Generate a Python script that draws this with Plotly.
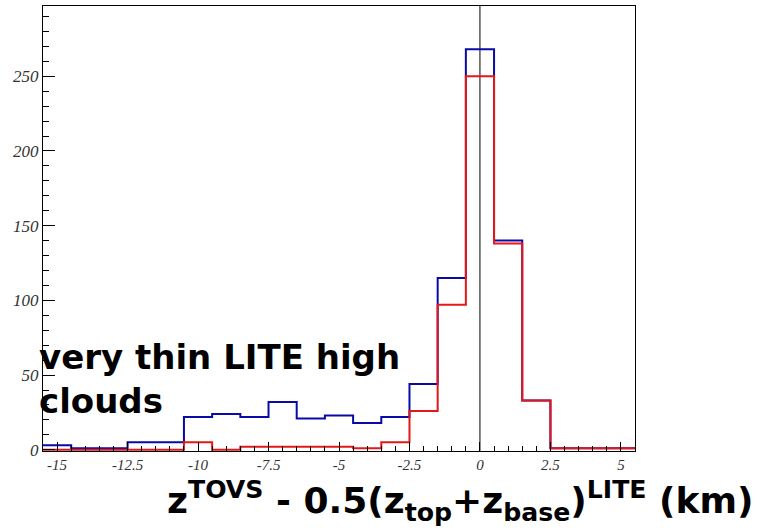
import plotly.graph_objects as go

# bin centres (km), width 1
bin_centers = [-15, -14, -13, -12, -11, -10, -9, -8, -7, -6, -5, -4, -3, -2, -1, 0, 1, 2, 3, 4, 5]
blue_counts = [3, 1, 1, 5, 5, 22, 24, 22, 32, 21, 23, 18, 22, 44, 115, 268, 140, 33, 1, 1, 1]
red_counts = [0, 0, 0, 0, 0, 5, 0, 2, 2, 2, 2, 1, 5, 26, 97, 250, 138, 33, 1, 1, 1]
bin_width = 1.0

x_ticks = [-15, -12.5, -10, -7.5, -5, -2.5, 0, 2.5, 5]
x_tick_labels = ["-15", "-12.5", "-10", "-7.5", "-5", "-2.5", "0", "2.5", "5"]
y_ticks = [0, 50, 100, 150, 200, 250]
y_tick_labels = ["0", "50", "100", "150", "200", "250"]


def step_xy(centers, counts, w):
    xs = [c - w / 2 for c in centers] + [centers[-1] + w / 2]
    ys = list(counts) + [counts[-1]]
    return xs, ys


bx, by = step_xy(bin_centers, blue_counts, bin_width)
rx, ry = step_xy(bin_centers, red_counts, bin_width)

W, H = 772, 530
ML, MR, MT, MB = 43, 137, 6, 79
PW, PH = W - ML - MR, H - MT - MB


def px_to_paper(px, py):
    return (px - ML) / PW, (H - MB - py) / PH


fig = go.Figure()
fig.add_trace(go.Scatter(x=bx, y=by, mode="lines", line=dict(color="#0a0aa8", width=2, shape="hv"),
                         showlegend=False, hoverinfo="skip"))
fig.add_trace(go.Scatter(x=rx, y=ry, mode="lines", line=dict(color="#e41818", width=2, shape="hv"),
                         showlegend=False, hoverinfo="skip"))

# vertical line at zero
fig.add_shape(type="line", x0=0, x1=0, y0=0, y1=1, xref="x", yref="paper",
              line=dict(color="black", width=1), layer="below")

xtickfont = dict(family="Liberation Serif", size=15, color="#333333", style="italic")
ytickfont = dict(family="Liberation Serif", size=17, color="#333333", style="italic")

fig.update_xaxes(range=[-15.5, 5.5], tickvals=x_ticks, ticktext=x_tick_labels,
                 ticks="inside", ticklen=9, tickwidth=1, tickcolor="black",
                 minor=dict(ticks="inside", ticklen=5, dtick=0.5, tick0=0, tickcolor="black"),
                 showline=True, linecolor="black", linewidth=1, mirror=True,
                 showgrid=False, zeroline=False, tickfont=xtickfont)
fig.update_yaxes(range=[-0.8, 297], tickvals=y_ticks, ticktext=y_tick_labels,
                 ticks="inside", ticklen=12, tickwidth=1, tickcolor="black",
                 minor=dict(ticks="inside", ticklen=6, dtick=10, tick0=0, tickcolor="black"),
                 showline=True, linecolor="black", linewidth=1, mirror=True,
                 showgrid=False, zeroline=False, tickfont=ytickfont)

lx, ly = px_to_paper(37, 379)
fig.add_annotation(text="<b>very thin LITE high<br>clouds</b>", x=lx, y=ly,
                   xref="paper", yref="paper", xanchor="left", yanchor="middle", align="left",
                   showarrow=False, font=dict(family="DejaVu Sans", size=34, color="black"))

tx, ty = px_to_paper(460, 501)
fig.add_annotation(text="<b>z<sup>TOVS</sup> - 0.5(z<sub>top</sub>+z<sub>base</sub>)<sup>LITE</sup> (km)</b>",
                   x=tx, y=ty, xref="paper", yref="paper", xanchor="center", yanchor="middle",
                   showarrow=False, font=dict(family="DejaVu Sans", size=36, color="black"))

fig.update_layout(width=W, height=H, margin=dict(l=ML, r=MR, t=MT, b=MB),
                  paper_bgcolor="white", plot_bgcolor="white")

fig.write_html("out.html")
